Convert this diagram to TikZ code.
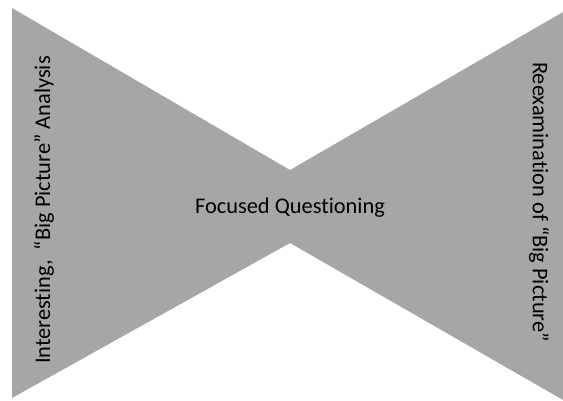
\documentclass[tikz,border=0pt]{standalone}
\usepackage{fontspec}
\setmainfont[Ligatures=NoCommon]{Carlito}
\definecolor{bowgray}{HTML}{A6A6A6}
\begin{document}
\begin{tikzpicture}[x=1pt,y=-1pt,
  lbl/.style={font=\fontsize{22.4}{26}\selectfont, text=black, inner sep=0pt}]
\useasboundingbox (0,0) rectangle (563,400);
\fill[bowgray] (12,8) coordinate (tl) -- (290,170) coordinate (ntop) -- (563,12) coordinate (tr)
  -- (563,400) coordinate (br) -- (290,243) coordinate (nbot) -- (12,398) coordinate (bl) -- cycle;
\node[lbl] (center) at (290,208) {Focused Questioning};
\node[lbl, rotate=90] (left) at (44,210) {Interesting,\ \ “Big Picture” Analysis};
\node[lbl, rotate=-90] (right) at (539,202) {Reexamination of “Big Picture”};
\end{tikzpicture}
\end{document}
